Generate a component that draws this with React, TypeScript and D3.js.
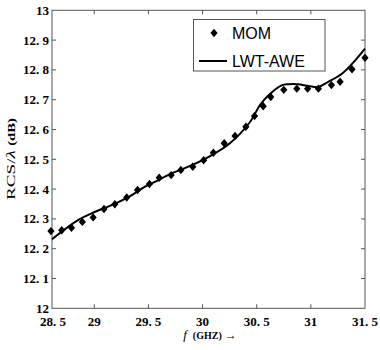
import React from "react";
import * as d3 from "d3";

// MOM reference samples (GHz, dB)
const momFreq = [28.6, 28.7, 28.79, 28.89, 28.99, 29.09, 29.19, 29.3, 29.4, 29.51, 29.6, 29.71, 29.8, 29.91, 30.01, 30.1, 30.2, 30.3, 30.4, 30.48, 30.56, 30.63, 30.75, 30.87, 30.97, 31.07, 31.19, 31.27, 31.38, 31.5];
const momRcs = [12.259, 12.262, 12.27, 12.29, 12.305, 12.333, 12.349, 12.372, 12.397, 12.417, 12.438, 12.447, 12.464, 12.475, 12.497, 12.522, 12.554, 12.578, 12.609, 12.645, 12.678, 12.709, 12.733, 12.737, 12.737, 12.737, 12.749, 12.76, 12.802, 12.841];

// LWT-AWE curve
const aweFreq = [28.61, 28.85, 29.01, 29.16, 29.32, 29.47, 29.56, 29.7, 29.88, 30.07, 30.25, 30.44, 30.53, 30.61, 30.73, 30.79, 30.88, 30.98, 31.07, 31.16, 31.29, 31.41, 31.5];
const aweRcs = [12.232, 12.296, 12.324, 12.346, 12.374, 12.408, 12.424, 12.45, 12.477, 12.511, 12.553, 12.626, 12.682, 12.715, 12.748, 12.752, 12.752, 12.746, 12.743, 12.76, 12.788, 12.832, 12.871];

// Axis ticks
const xTickValues = [28.61, 29, 29.5, 30, 30.5, 31, 31.5];
const xTickLabels = ["28.5", "29", "29.5", "30", "30.5", "31", "31.5"];
const yTickValues = [12, 12.1, 12.2, 12.3, 12.4, 12.5, 12.6, 12.7, 12.8, 12.9, 13];
const yTickLabels = ["12", "12.1", "12.2", "12.3", "12.4", "12.5", "12.6", "12.7", "12.8", "12.9", "13"];

const seriesNames = ["MOM", "LWT-AWE"];

const W = 380;
const H = 350;
const left = 52;
const right = 365;
const top = 10.3;
const bottom = 308.3;

const x = d3.scaleLinear().domain([28.61, 31.5]).range([left, right]);
const y = d3.scaleLinear().domain([12, 13]).range([bottom, top]);

const axisColor = "#555";
const tickFont = "'Liberation Serif', 'DejaVu Serif', serif";

function diamond(cx: number, cy: number, hw = 3.6, hh = 4.2) {
  return `M${cx},${cy - hh}L${cx + hw},${cy}L${cx},${cy + hh}L${cx - hw},${cy}Z`;
}

function SplitLabel({ label }: { label: string }) {
  const i = label.indexOf(".");
  if (i < 0) return <>{label}</>;
  return (
    <>
      {label.slice(0, i + 1)}
      <tspan dx={3.2}>{label.slice(i + 1)}</tspan>
    </>
  );
}

export default function App() {
  const line = d3
    .line<number>()
    .x((_, i) => x(aweFreq[i]))
    .y((d) => y(d))
    .curve(d3.curveCatmullRom.alpha(0.5));
  const tickLen = 4;

  return (
    <svg
      width={W}
      height={H}
      style={{ position: "absolute", left: 0, top: 0, background: "#fff" }}
    >
      <rect x={0} y={0} width={W} height={H} fill="#fff" />
      {/* frame */}
      <rect x={left} y={top} width={right - left} height={bottom - top} fill="none" stroke={axisColor} strokeWidth={1} />
      {/* x ticks */}
      {xTickValues.map((v, i) => (
        <g key={"x" + i}>
          {i > 0 && i < xTickValues.length - 1 && (
            <>
              <line x1={x(v)} x2={x(v)} y1={bottom} y2={bottom - tickLen} stroke={axisColor} />
              <line x1={x(v)} x2={x(v)} y1={top} y2={top + tickLen} stroke={axisColor} />
            </>
          )}
          <text
            x={x(v) + (i === 0 ? 1 : 0)}
            y={326}
            textAnchor="middle"
            fontFamily={tickFont}
            fontWeight="bold"
            fontSize={13}
            fill="#000"
          >
            <SplitLabel label={xTickLabels[i]} />
          </text>
        </g>
      ))}
      {/* y ticks */}
      {yTickValues.map((v, i) => (
        <g key={"y" + i}>
          {i > 0 && i < yTickValues.length - 1 && (
            <>
              <line x1={left} x2={left + tickLen} y1={y(v)} y2={y(v)} stroke={axisColor} />
              <line x1={right} x2={right - tickLen} y1={y(v)} y2={y(v)} stroke={axisColor} />
            </>
          )}
          <text
            x={49}
            y={y(v)}
            dy="0.35em"
            textAnchor="end"
            fontFamily={tickFont}
            fontWeight="bold"
            fontSize={13}
            fill="#000"
          >
            <SplitLabel label={yTickLabels[i]} />
          </text>
        </g>
      ))}
      {/* curve */}
      <path d={line(aweRcs) || ""} fill="none" stroke="#000" strokeWidth={2} />
      {/* markers */}
      {momRcs.map((v, i) => (
        <path key={"m" + i} d={diamond(x(momFreq[i]), y(v))} fill="#000" />
      ))}
      {/* legend */}
      <rect x={193.5} y={19.5} width={131.5} height={51.5} fill="#fff" stroke={axisColor} strokeWidth={1} />
      <path d={diamond(214, 33)} fill="#000" />
      <text x={232} y={39} fontFamily="'Liberation Sans', Arial, sans-serif" fontSize={16} fill="#000">
        {seriesNames[0]}
      </text>
      <line x1={199} x2={227} y1={61} y2={61} stroke="#000" strokeWidth={2} />
      <text x={232} y={67} fontFamily="'Liberation Sans', Arial, sans-serif" fontSize={16} fill="#000">
        {seriesNames[1]}
      </text>
      {/* x title */}
      <text x={210} y={339} textAnchor="middle" fontFamily={tickFont} fill="#000">
        <tspan fontStyle="italic" fontSize={13}>f</tspan>
        <tspan fontSize={10} fontWeight="bold" dx={6}>(GHZ)</tspan>
        <tspan fontSize={12} dx={3}>→</tspan>
      </text>
      {/* y title */}
      <text
        transform="translate(15,159) rotate(-90)"
        textAnchor="middle"
        fontFamily={tickFont}
        fill="#000"
        textLength={82}
        lengthAdjust="spacingAndGlyphs"
      >
        <tspan fontSize={13}>RCS/</tspan>
        <tspan fontSize={13} fontStyle="italic">λ</tspan>
        <tspan fontSize={10} fontWeight="bold" dx={3}>(dB)</tspan>
      </text>
    </svg>
  );
}
